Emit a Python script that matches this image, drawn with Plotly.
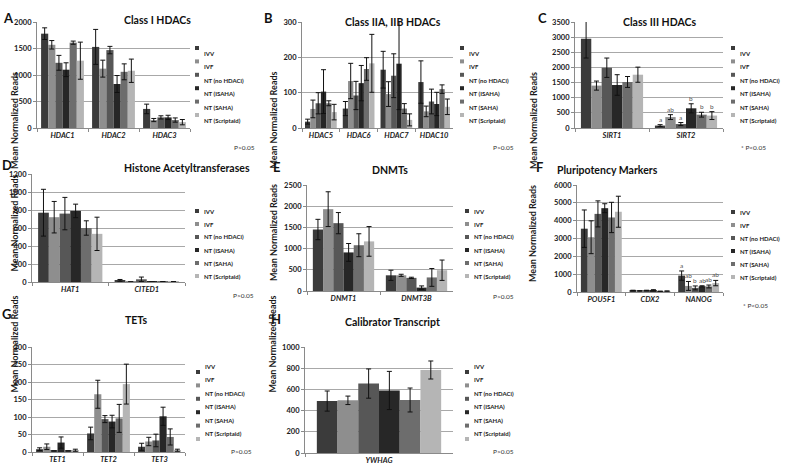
"""Mean normalized reads per gene, eight panels (A-H), Excel-like grouped bars."""
import plotly.graph_objects as go

W, H = 785, 469
FONT = "Lato"

SERIES = ["IVV", "IVF", "NT (no HDACi)", "NT (ISAHA)", "NT (SAHA)", "NT (Scriptaid)"]
COLORS = ["#3b3b3b", "#8e8e8e", "#575757", "#272727", "#6d6d6d", "#b5b5b5"]

# A - Class I HDACs (rows = series, cols = genes)
a_genes = ["HDAC1", "HDAC2", "HDAC3"]
a_mean = [[1780, 1530, 360], [1570, 1120, 150], [1230, 1470, 200],
          [1100, 830, 200], [1610, 1060, 150], [1270, 1080, 110]]
a_err = [[110, 330, 90], [80, 160, 30], [140, 70, 30],
         [130, 160, 40], [30, 150, 40], [350, 220, 50]]

# B - Class IIA, IIB HDACs
b_genes = ["HDAC5", "HDAC6", "HDAC7", "HDAC10"]
b_mean = [[18, 55, 165, 130], [54, 133, 96, 47], [70, 92, 148, 75],
          [103, 127, 182, 68], [70, 167, 55, 110], [45, 183, 23, 60]]
b_err = [[7, 20, 52, 60], [25, 50, 35, 15], [30, 40, 62, 35],
         [62, 50, 130, 33], [7, 32, 14, 12], [22, 82, 17, 22]]

# C - Class III HDACs
c_genes = ["SIRT1", "SIRT2"]
c_mean = [[2950, 80], [1400, 360], [1990, 130], [1420, 650], [1520, 440], [1760, 410]]
c_err = [[640, 30], [150, 80], [320, 50], [340, 150], [180, 80], [250, 130]]
c_sig = [["", "a"], ["", "ab"], ["", "a"], ["", "b"], ["", "b"], ["", "b"]]

# D - Histone Acetyltransferases
d_genes = ["HAT1", "CITED1"]
d_mean = [[770, 18], [720, 2], [760, 30], [790, 1], [600, 4], [535, 4]]
d_err = [[260, 10], [175, 0], [180, 25], [75, 0], [80, 0], [185, 0]]

# E - DNMTs
e_genes = ["DNMT1", "DNMT3B"]
e_mean = [[1450, 370], [1930, 370], [1600, 310], [910, 80], [1080, 320], [1170, 490]]
e_err = [[240, 120], [410, 25], [250, 15], [210, 40], [270, 210], [350, 240]]

# F - Pluripotency Markers
f_genes = ["POU5F1", "CDX2", "NANOG"]
f_mean = [[3550, 80, 920], [3070, 60, 340], [4380, 80, 230],
          [4700, 100, 320], [4180, 40, 310], [4500, 50, 500]]
f_err = [[1050, 20, 260], [920, 15, 250], [730, 20, 110],
         [250, 30, 30], [850, 10, 80], [870, 10, 150]]
f_sig = [["", "", "a"], ["", "", "ab"], ["", "", "b"],
         ["", "", "ab"], ["", "", "ab"], ["", "", "ab"]]

# G - TETs
g_genes = ["TET1", "TET2", "TET3"]
g_mean = [[8, 53, 15], [15, 165, 30], [3, 94, 33], [27, 87, 102], [3, 96, 43], [5, 194, 5]]
g_err = [[4, 18, 10], [8, 40, 12], [0, 10, 18], [16, 18, 26], [0, 40, 23], [3, 57, 3]]

# H - Calibrator Transcript
h_genes = ["YWHAG"]
h_mean = [[490], [497], [655], [590], [500], [783]]
h_err = [[95], [40], [138], [180], [113], [85]]

BARGAP = 0.16

# panel: letter, title, data, y range/dtick, pixel box (x0, x1, y0, y1), label spots
PANELS = [
    dict(letter="A", title="Class I HDACs", genes=a_genes, mean=a_mean, err=a_err,
         ymax=2000, dtick=500, box=(37, 190, 22, 128), tit=(122, 12), let=(1, 8),
         ylab=7, leg=(197, 48, 13.4), p=(232, 142, "P>0.05")),
    dict(letter="B", title="Class IIA, IIB HDACs", genes=b_genes, mean=b_mean, err=b_err,
         ymax=300, dtick=100, box=(302, 453, 22, 128), tit=(393, 14), let=(262, 8),
         ylab=273, leg=(462, 48, 13.4), p=(503, 142, "P>0.05")),
    dict(letter="C", title="Class III HDACs", genes=c_genes, mean=c_mean, err=c_err, sig=c_sig,
         ymax=3500, dtick=500, box=(575, 723, 22, 128), tit=(698, 14), let=(536, 8),
         ylab=541, leg=(733, 48, 13.4), p=(768, 142, "* P<0.05")),
    dict(letter="D", title="Histone Acetyltransferases", genes=d_genes, mean=d_mean, err=d_err,
         ymax=1200, dtick=200, box=(32, 185, 174, 282), tit=(122, 168), let=(0, 165),
         ylab=6, leg=(197, 211, 13), p=(231, 295, "P>0.05")),
    dict(letter="E", title="DNMTs", genes=e_genes, mean=e_mean, err=e_err,
         ymax=2500, dtick=500, box=(307, 453, 185, 291), tit=(390, 170), let=(271, 167),
         ylab=273, leg=(467, 211, 13), p=(503, 296, "P>0.05")),
    dict(letter="F", title="Pluripotency Markers", genes=f_genes, mean=f_mean, err=f_err, sig=f_sig,
         ymax=6000, dtick=1000, box=(577, 723, 185, 292), tit=(660, 170), let=(534, 167),
         ylab=540, leg=(733, 212, 13), p=(770, 305, "* P<0.05")),
    dict(letter="G", title="TETs", genes=g_genes, mean=g_mean, err=g_err,
         ymax=300, dtick=50, box=(32, 185, 347, 452), tit=(123, 328), let=(0, 324),
         ylab=6, leg=(198, 372, 13.4), p=(229, 457, "P>0.05")),
    dict(letter="H", title="Calibrator Transcript", genes=h_genes, mean=h_mean, err=h_err,
         ymax=1000, dtick=200, box=(305, 453, 347, 453), tit=(392, 330), let=(269, 329),
         ylab=272, leg=(467, 372, 13.4), p=(503, 457, "P>0.05")),
]


def px(x):
    return x / W


def py(y):
    return 1 - y / H


fig = go.Figure()
annotations = []
shapes = []
layout = {}

for k, pn in enumerate(PANELS, start=1):
    sfx = "" if k == 1 else str(k)
    xa, ya = "x" + sfx, "y" + sfx
    x0, x1, y0, y1 = pn["box"]
    yticks = list(range(0, pn["ymax"] + 1, pn["dtick"]))

    for i, name in enumerate(SERIES):
        fig.add_trace(go.Bar(
            x=pn["genes"], y=pn["mean"][i], name=name, xaxis=xa, yaxis=ya,
            marker=dict(color=COLORS[i], line=dict(width=0)),
            error_y=dict(type="data", array=pn["err"][i], color="#111111",
                         thickness=1, width=2.5),
            showlegend=False,
        ))

    layout["xaxis" + sfx] = dict(
        domain=[px(x0), px(x1)], anchor=ya, type="category", automargin=False,
        showline=True, linecolor="#8a8a8a", linewidth=1,
        ticks="outside", tickson="boundaries", ticklen=3, tickcolor="#8a8a8a",
        showgrid=False, fixedrange=True,
        tickvals=pn["genes"], ticktext=[f"<b><i>{g}</i></b>" for g in pn["genes"]],
        tickfont=dict(family=FONT, size=7.5, color="#1a1a1a"),
    )
    layout["yaxis" + sfx] = dict(
        domain=[py(y1), py(y0)], anchor=xa, range=[0, pn["ymax"]], automargin=False,
        showline=True, linecolor="#8a8a8a", linewidth=1,
        ticks="outside", ticklen=3, tickcolor="#8a8a8a",
        showgrid=True, gridcolor="#a8a8a8", gridwidth=1, zeroline=False,
        tickvals=yticks, ticktext=[f"<b>{v}</b>" for v in yticks],
        tickfont=dict(family=FONT, size=7.5, color="#1a1a1a"), fixedrange=True,
    )

    # title, panel letter, y title, p-value note
    annotations.append(dict(x=px(pn["tit"][0]), y=py(pn["tit"][1]), xref="paper", yref="paper",
                            text=f"<b>{pn['title']}</b>", showarrow=False,
                            font=dict(family=FONT, size=10.5, color="#111111")))
    annotations.append(dict(x=px(pn["let"][0]), y=py(pn["let"][1]), xref="paper", yref="paper",
                            text=f"<b>{pn['letter']}</b>", showarrow=False, xanchor="left",
                            font=dict(family=FONT, size=13, color="#111111")))
    annotations.append(dict(x=px(pn["ylab"]), y=py((y0 + y1) / 2 - 5), xref="paper", yref="paper",
                            text="<b>Mean Normalized Reads</b>", showarrow=False, textangle=-90,
                            font=dict(family=FONT, size=9, color="#1a1a1a")))
    annotations.append(dict(x=px(pn["p"][0]), y=py(pn["p"][1]), xref="paper", yref="paper",
                            text=pn["p"][2], showarrow=False,
                            font=dict(family=FONT, size=6.5, color="#333333")))

    # legend (drawn by hand so entries sit tightly like the original)
    lx, ly, dy = pn["leg"]
    for i, name in enumerate(SERIES):
        yy = ly + i * dy
        shapes.append(dict(type="rect", xref="paper", yref="paper",
                           x0=px(lx - 2), x1=px(lx + 2), y0=py(yy + 2), y1=py(yy - 2),
                           fillcolor=COLORS[i], line=dict(width=0)))
        annotations.append(dict(x=px(lx + 5), y=py(yy), xref="paper", yref="paper",
                                text=f"<b>{name}</b>", showarrow=False, xanchor="left",
                                font=dict(family=FONT, size=6, color="#1a1a1a")))

    # significance letters above error bars
    if "sig" in pn:
        w = (1 - BARGAP) / len(SERIES)
        for i in range(len(SERIES)):
            for j, lab in enumerate(pn["sig"][i]):
                if not lab:
                    continue
                annotations.append(dict(
                    x=j + (i - 2.5) * w, y=pn["mean"][i][j] + pn["err"][i][j],
                    xref=xa, yref=ya, text=lab, showarrow=False, yanchor="bottom",
                    font=dict(family=FONT, size=6.5, color="#555555")))

fig.update_layout(
    width=W, height=H, margin=dict(l=0, r=0, t=0, b=0, autoexpand=False),
    paper_bgcolor="white", plot_bgcolor="white",
    barmode="group", bargap=BARGAP, bargroupgap=0,
    showlegend=False, annotations=annotations, shapes=shapes,
    font=dict(family=FONT),
    **layout,
)

# page body has a default 8px margin; drop it so the figure fills the window
fig.write_html("out.html", config={"displayModeBar": False},
               post_script="document.body.style.margin = '0';")
